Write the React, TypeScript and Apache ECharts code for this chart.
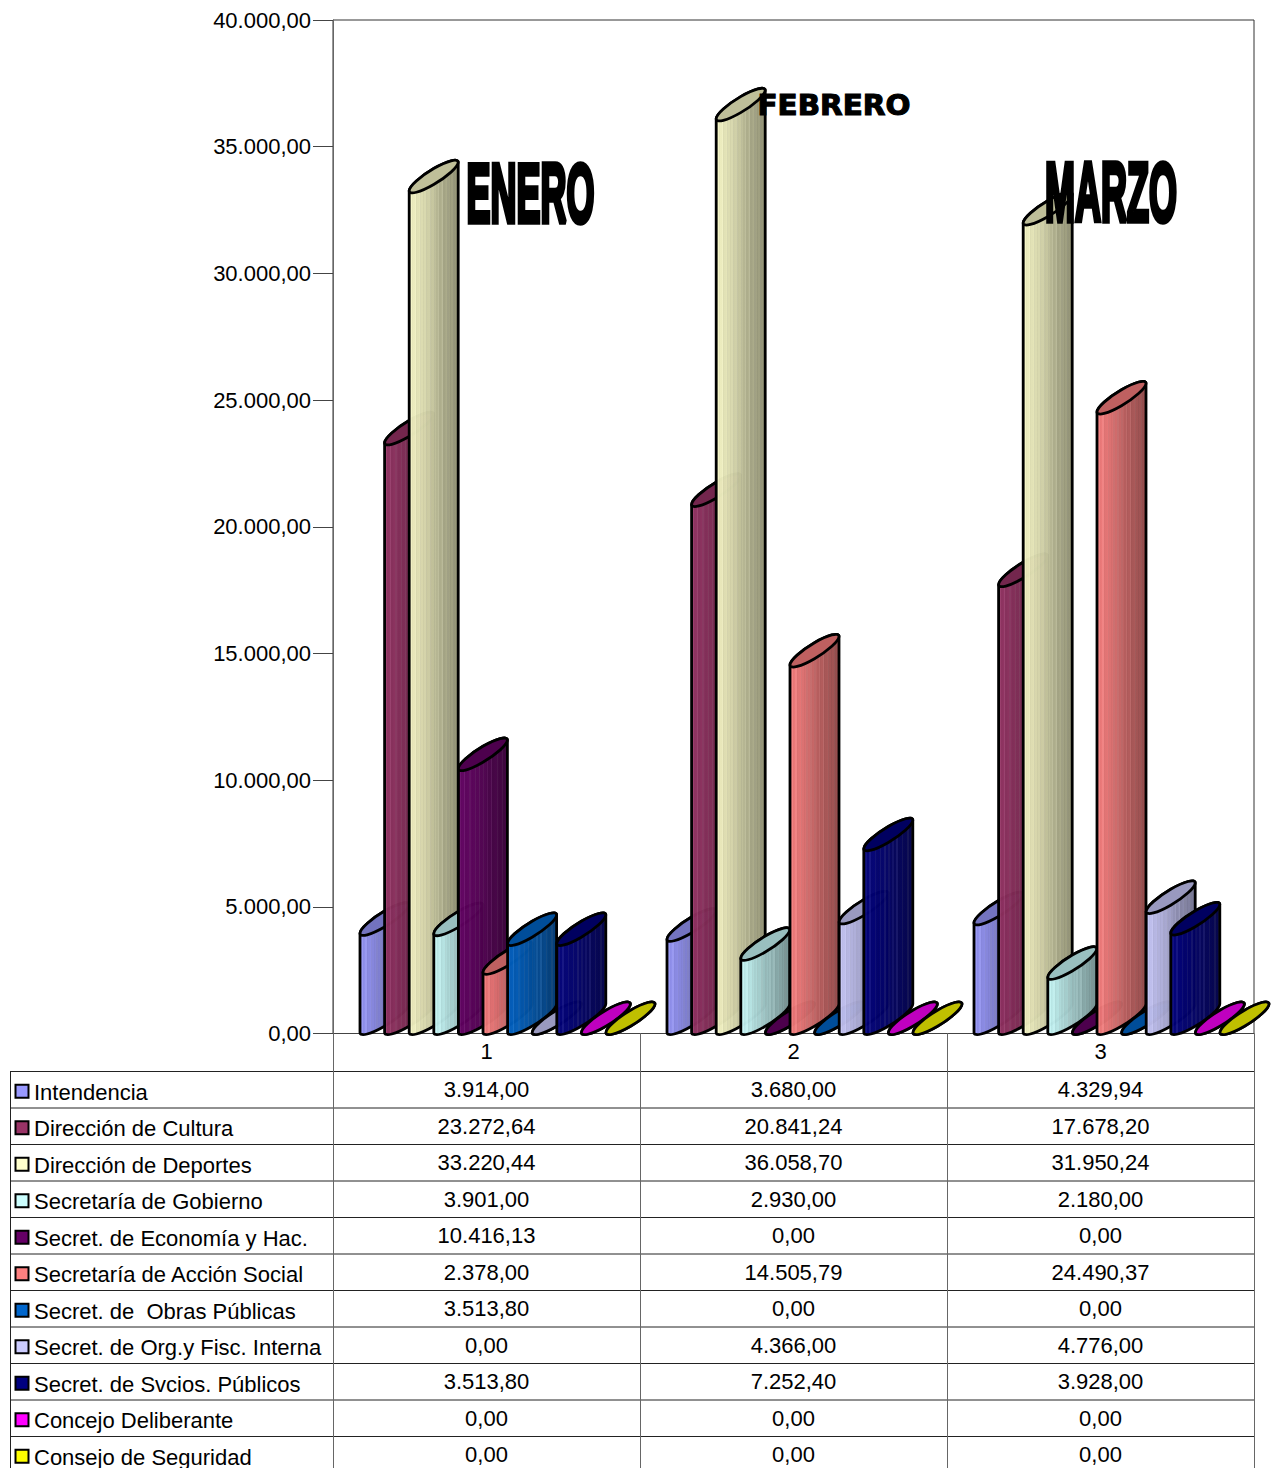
import React, { useEffect, useRef } from "react";
import * as echarts from "echarts";

const categories = ["1", "2", "3"];
const seriesNames = [
  "Intendencia",
  "Dirección de Cultura",
  "Dirección de Deportes",
  "Secretaría de Gobierno",
  "Secret. de Economía y Hac.",
  "Secretaría de Acción Social",
  "Secret. de  Obras Públicas",
  "Secret. de Org.y Fisc. Interna",
  "Secret. de Svcios. Públicos",
  "Concejo Deliberante",
  "Consejo de Seguridad",
];
const intendencia = [3914.0, 3680.0, 4329.94];
const cultura = [23272.64, 20841.24, 17678.2];
const deportes = [33220.44, 36058.7, 31950.24];
const gobierno = [3901.0, 2930.0, 2180.0];
const economia = [10416.13, 0, 0];
const accionSocial = [2378.0, 14505.79, 24490.37];
const obras = [3513.8, 0, 0];
const orgFisc = [0, 4366.0, 4776.0];
const svcios = [3513.8, 7252.4, 3928.0];
const concejo = [0, 0, 0];
const consejo = [0, 0, 0];
const seriesValues = [intendencia, cultura, deportes, gobierno, economia, accionSocial, obras, orgFisc, svcios, concejo, consejo];
const colors = ["#9999FF", "#993366", "#FFFFCC", "#CCFFFF", "#660066", "#FF8080", "#0066CC", "#CCCCFF", "#000080", "#FF00FF", "#FFFF00"];

const FONT = "'Liberation Sans', Arial, sans-serif";
const W = 1271;
const H = 1468;
const PLOT_L = 333;
const PLOT_R = 1254;
const PLOT_T = 20;
const PLOT_B = 1033.5;
const BAR_W = 49;
const BAR_STEP = 24.6;
const FIRST_OFFSET = -126.5;
const RISE = 28.5;
const BULGE = 8;
const LIFT_UP = 1;
const KAPPA = 0.5523;

const ROW_TOP = 1071.5;
const ROW_H = 36.5;
const COL_X = [333, 640, 947, 1254];

function fmt(v: number): string {
  const [a, b] = v.toFixed(2).split(".");
  return a.replace(/\B(?=(\d{3})+$)/g, ".") + "," + b;
}

function rgb(hex: string): number[] {
  return [1, 3, 5].map((i) => parseInt(hex.slice(i, i + 2), 16));
}

function shade(hex: string, m: number, lift = 0, alpha = 1): string {
  const c = rgb(hex).map((x) => {
    const d = x * m;
    return Math.round(Math.min(255, d + (255 - d) * lift));
  });
  return `rgba(${c[0]},${c[1]},${c[2]},${alpha})`;
}

const stripeJitter = [0, 0.05, -0.02, 0.03, 0.07, -0.03, 0.02, 0.06, -0.02, 0.04, 0, 0.06, -0.03, 0.03, 0.06, -0.02, 0.02, 0.05, -0.02, 0.04];
const stripeLift = [0, 0.05, 0, 0, 0.07, 0, 0, 0, 0.05, 0, 0, 0, 0.06, 0, 0, 0.07, 0, 0, 0.05, 0];
const BANDS = 36;

function bodyGradient(hex: string) {
  const stops: { offset: number; color: string }[] = [];
  for (let k = 0; k < BANDS; k++) {
    const t = k / BANDS;
    const j = k % stripeJitter.length;
    const m = Math.max(0, 0.94 - 0.42 * t + stripeJitter[j] * 0.6);
    const col = shade(hex, m, stripeLift[j], 0.975);
    stops.push({ offset: t, color: col });
    stops.push({ offset: (k + 1) / BANDS, color: col });
  }
  return new echarts.graphic.LinearGradient(0, 0, 1, 0, stops);
}

type P = [number, number];
const pt = (p: number[]) => `${p[0].toFixed(2)} ${p[1].toFixed(2)}`;

function lowerArc(left: number, y: number): string {
  const ux = BAR_W / 2;
  const uy = -RISE / 2;
  const cx = left + ux;
  const cy = y + uy;
  const L: P = [left, y];
  const B: P = [cx, cy + BULGE];
  const R: P = [left + BAR_W, y - RISE];
  return (
    `C ${pt([L[0], L[1] + KAPPA * BULGE])} ${pt([B[0] - KAPPA * ux, B[1] - KAPPA * uy])} ${pt(B)} ` +
    `C ${pt([B[0] + KAPPA * ux, B[1] + KAPPA * uy])} ${pt([R[0], R[1] + KAPPA * BULGE])} ${pt(R)} `
  );
}

function upperArc(left: number, y: number): string {
  const ux = BAR_W / 2;
  const uy = -RISE / 2;
  const cx = left + ux;
  const cy = y + uy;
  const L: P = [left, y];
  const T: P = [cx, cy - BULGE];
  const R: P = [left + BAR_W, y - RISE];
  return (
    `C ${pt([R[0], R[1] - KAPPA * BULGE])} ${pt([T[0] + KAPPA * ux, T[1] + KAPPA * uy])} ${pt(T)} ` +
    `C ${pt([T[0] - KAPPA * ux, T[1] - KAPPA * uy])} ${pt([L[0], L[1] - KAPPA * BULGE])} ${pt(L)} Z`
  );
}

function renderCylinder(params: any, api: any) {
  const idx = params.seriesIndex as number;
  const top = api.coord([api.value(0), api.value(1)]);
  const base = api.coord([api.value(0), 0]);
  const left = top[0] + FIRST_OFFSET + BAR_STEP * idx;
  const topY = top[1] - LIFT_UP;
  const baseY = base[1] - LIFT_UP;
  const color = colors[idx];
  const right = left + BAR_W;
  const bodyPath =
    `M ${left} ${topY} L ${left} ${baseY} ` + lowerArc(left, baseY) + `L ${right} ${topY - RISE} ` + upperArc(left, topY);
  const capPath = `M ${left} ${topY} ` + lowerArc(left, topY) + upperArc(left, topY);
  const stroke = { stroke: "#000", lineWidth: 2.8, lineJoin: "round" };
  return {
    type: "group",
    children: [
      { type: "path", shape: { pathData: bodyPath }, style: { fill: bodyGradient(color), ...stroke } },
      { type: "path", shape: { pathData: capPath }, style: { fill: shade(color, 0.75), ...stroke } },
    ],
  };
}

function tableGraphics(): any[] {
  const els: any[] = [];
  const line = (x1: number, y1: number, x2: number, y2: number, c: string) =>
    els.push({ type: "line", z: 50, shape: { x1, y1, x2, y2 }, style: { stroke: c, lineWidth: 1 } });
  seriesNames.forEach((_, i) => line(10, ROW_TOP + ROW_H * i, PLOT_R, ROW_TOP + ROW_H * i, "#222"));
  line(10.5, ROW_TOP, 10.5, H, "#222");
  COL_X.forEach((x) => line(x + 0.5, PLOT_B, x + 0.5, H, "#666"));
  seriesNames.forEach((name, i) => {
    const mid = ROW_TOP + ROW_H * i + ROW_H / 2;
    els.push({
      type: "rect",
      z: 51,
      shape: { x: 15.5, y: mid - 5, width: 13, height: 13 },
      style: { fill: colors[i], stroke: "#000", lineWidth: 2 },
    });
    els.push({
      type: "text",
      z: 51,
      x: 34,
      y: mid + 2.5,
      style: { text: name, fontFamily: FONT, fontSize: 22, fill: "#000", textAlign: "left", textVerticalAlign: "middle" },
    });
    seriesValues[i].forEach((v, c) => {
      els.push({
        type: "text",
        z: 51,
        x: (COL_X[c] + COL_X[c + 1]) / 2,
        y: mid,
        style: { text: fmt(v), fontFamily: FONT, fontSize: 22, fill: "#000", textAlign: "center", textVerticalAlign: "middle" },
      });
    });
  });
  return els;
}

function titleGraphic(text: string, x: number, y: number, fontSize: number, scaleX: number, scaleY: number, family: string, lw: number) {
  return {
    type: "text",
    z: 60,
    x,
    y,
    scaleX,
    scaleY,
    style: {
      text,
      fontFamily: family,
      fontWeight: "bold",
      fontSize,
      fill: "#000",
      stroke: "#000",
      lineWidth: lw,
      textAlign: "center",
      textVerticalAlign: "middle",
    },
  };
}

export default function App() {
  const ref = useRef<HTMLDivElement>(null);
  useEffect(() => {
    const chart = echarts.init(ref.current!, undefined, { renderer: "svg" });
    chart.setOption({
      animation: false,
      backgroundColor: "#fff",
      grid: {
        show: true,
        left: PLOT_L,
        top: PLOT_T,
        width: PLOT_R - PLOT_L,
        height: PLOT_B - PLOT_T,
        borderColor: "#333",
        borderWidth: 1,
        containLabel: false,
      },
      xAxis: {
        type: "category",
        data: categories,
        boundaryGap: true,
        axisLine: { show: true, lineStyle: { color: "#444", width: 1 } },
        axisTick: { show: true, length: 38, lineStyle: { color: "#666" } },
        axisLabel: { color: "#000", fontFamily: FONT, fontSize: 22, margin: 7 },
      },
      yAxis: {
        type: "value",
        min: 0,
        max: 40000,
        interval: 5000,
        splitLine: { show: false },
        axisLine: { show: true, lineStyle: { color: "#666", width: 1 } },
        axisTick: { show: true, length: 20, lineStyle: { color: "#444" } },
        axisLabel: { color: "#000", fontFamily: FONT, fontSize: 22, margin: 22, formatter: (v: number) => fmt(v) },
      },
      series: seriesNames.map((name, i) => ({
        type: "custom",
        name,
        clip: false,
        z: 5,
        encode: { x: 0, y: 1 },
        data: seriesValues[i].map((v, c) => [c, v]),
        renderItem: renderCylinder,
      })),
      graphic: {
        z: 20,
        elements: [
          ...tableGraphics(),
          titleGraphic("ENERO", 530.5, 193, 60, 0.6, 1.4, FONT, 4),
          titleGraphic("FEBRERO", 834, 105.5, 30, 0.98, 0.97, "'DejaVu Sans'", 1.2),
          titleGraphic("MARZO", 1111, 192.5, 60, 0.6, 1.4, FONT, 4),
        ],
      },
    });
    return () => chart.dispose();
  }, []);
  return <div ref={ref} style={{ position: "absolute", left: 0, top: 0, width: W, height: H }} />;
}
